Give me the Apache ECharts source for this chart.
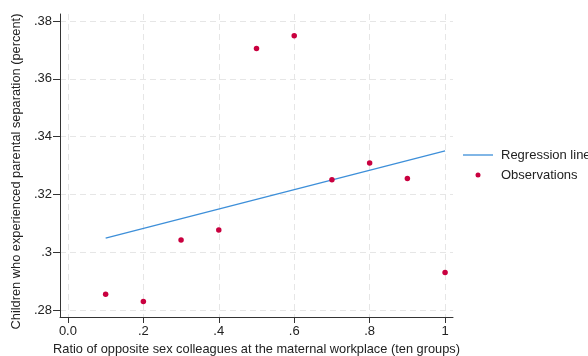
<!DOCTYPE html>
<html>
<head>
<meta charset="utf-8">
<script src="https://cdn.jsdelivr.net/npm/echarts@6/dist/echarts.min.js"></script>
<style>html,body{margin:0;padding:0;background:#fff;}#chart{width:588px;height:356px;}</style>
</head>
<body>
<div id="chart"></div>
<script>
const xTickValues = [0, 0.2, 0.4, 0.6, 0.8, 1];
const xTickLabels = ['0.0', '.2', '.4', '.6', '.8', '1'];
const yTickValues = [0.28, 0.30, 0.32, 0.34, 0.36, 0.38];
const yTickLabels = ['.28', '.3', '.32', '.34', '.36', '.38'];
const obsX = [0.1, 0.2, 0.3, 0.4, 0.5, 0.6, 0.7, 0.8, 0.9, 1.0];
const obsY = [0.2855, 0.2830, 0.3042, 0.3077, 0.3705, 0.3749, 0.3251, 0.3309, 0.3255, 0.2930];
const fitX = [0.1, 1.0];
const fitY = [0.3049, 0.3351];
const seriesNames = ['Regression line', 'Observations'];
const xName = 'Ratio of opposite sex colleagues at the maternal workplace (ten groups)';
const yName = 'Children who experienced parental separation (percent)';

const font = "'Liberation Sans', Arial, sans-serif";
const axisColor = '#333';
function labelFor(vals, labs) {
  return function (v) {
    let best = 0, bd = Infinity;
    vals.forEach((t, i) => { const d = Math.abs(t - v); if (d < bd) { bd = d; best = i; } });
    return labs[best];
  };
}
const chart = echarts.init(document.getElementById('chart'), null, {renderer: 'canvas'});
chart.setOption({
  animation: false,
  backgroundColor: '#fff',
  textStyle: {fontFamily: font},
  grid: {left: 60, right: 135, top: 14, bottom: 39, containLabel: false, outerBoundsMode: 'none'},
  legend: {
    orient: 'vertical', left: 463, top: 148, padding: 0, itemWidth: 30, itemHeight: 5, itemGap: 6,
    textStyle: {fontFamily: font, fontSize: 13, color: '#222', lineHeight: 14, padding: [0, 0, 0, 3]},
    data: [
      {name: seriesNames[0], icon: 'path://M0,0L30,0L30,1.3L0,1.3Z'},
      {name: seriesNames[1], icon: 'circle'}
    ]
  },
  xAxis: {
    type: 'value', min: -0.021, max: 1.021,
    name: xName, nameLocation: 'middle', nameGap: 24,
    nameTextStyle: {fontFamily: font, fontSize: 12.8, color: '#222'},
    axisLine: {show: true, onZero: false, lineStyle: {color: axisColor, width: 1}},
    axisTick: {show: true, length: 6, customValues: xTickValues, lineStyle: {color: axisColor}},
    axisLabel: {customValues: xTickValues, formatter: labelFor(xTickValues, xTickLabels), fontFamily: font, fontSize: 13, color: '#222', margin: 8},
    splitLine: {show: true, lineStyle: {color: '#e6e6e6', type: [6, 4], width: 1}}
  },
  yAxis: {
    type: 'value', min: 0.2776, max: 0.3824,
    name: yName, nameLocation: 'middle', nameGap: 34, nameRotate: 90,
    nameTextStyle: {fontFamily: font, fontSize: 12.8, color: '#222', padding: [0, 12, 0, 0]},
    axisLine: {show: true, onZero: false, lineStyle: {color: axisColor, width: 1}},
    axisTick: {show: true, length: 7, customValues: yTickValues, lineStyle: {color: axisColor}},
    axisLabel: {customValues: yTickValues, formatter: labelFor(yTickValues, yTickLabels), fontFamily: font, fontSize: 13, color: '#222', margin: 8},
    splitLine: {show: true, lineStyle: {color: '#e6e6e6', type: [6, 4], width: 1}}
  },
  series: [
    {
      name: seriesNames[0], type: 'line', showSymbol: false, symbol: 'none',
      lineStyle: {color: '#3d8fd9', width: 1.3}, itemStyle: {color: '#3d8fd9'},
      data: fitX.map((x, i) => [x, fitY[i]]), z: 2
    },
    {
      name: seriesNames[1], type: 'scatter', symbol: 'circle', symbolSize: 5.5,
      itemStyle: {color: '#c9003f', opacity: 1},
      data: obsX.map((x, i) => [x, obsY[i]]), z: 3
    }
  ]
});
</script>
</body>
</html>
